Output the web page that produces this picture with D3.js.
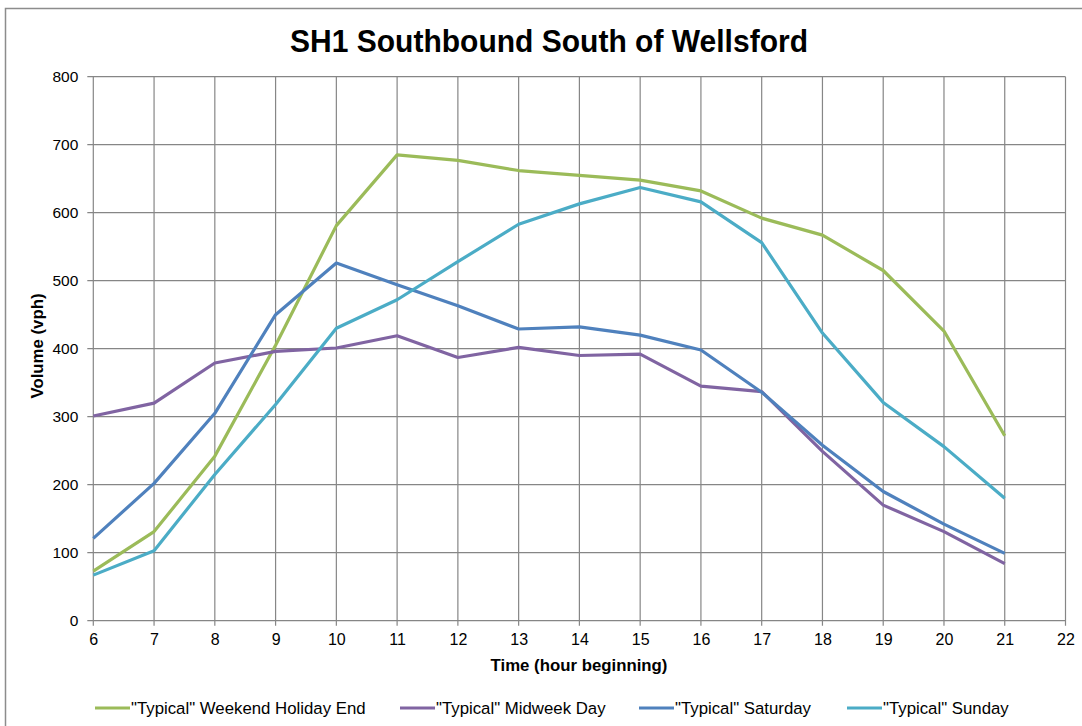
<!DOCTYPE html>
<html><head><meta charset="utf-8">
<script src="https://cdn.jsdelivr.net/npm/d3@7"></script>
<style>body{margin:0;background:#fff}svg{display:block;font-family:"Liberation Sans",Arial,sans-serif}</style>
</head><body><svg id="c" width="1082" height="726"></svg>
<script>
const hours = [6,7,8,9,10,11,12,13,14,15,16,17,18,19,20,21];
const weekendHolidayEnd = [73,131,242,405,581,685,677,662,655,648,632,592,567,515,426,272];
const midweekDay = [301,320,379,396,401,419,387,402,390,392,345,337,249,170,131,84];
const saturday = [121,202,305,450,526,494,463,429,432,420,398,336,258,190,142,99];
const sunday = [67,103,215,318,430,472,528,583,613,637,616,556,423,321,256,180];
const seriesNames = ['"Typical" Weekend Holiday End','"Typical" Midweek Day','"Typical" Saturday','"Typical" Sunday'];
const seriesColors = ['#9BBB59','#8064A2','#4F81BD','#4BACC6'];
const xTicks = d3.range(6,23);
const yTicks = [0,100,200,300,400,500,600,700,800];

const svg = d3.select('#c');
const L=93.3, R=1065.5, T=76.7, B=620.7;
const x = d3.scaleLinear().domain([6,22]).range([L,R]);
const y = d3.scaleLinear().domain([0,800]).range([B,T]);
const FF = '"Liberation Sans",Arial,sans-serif';

// outer frame
svg.append('path').attr('d',`M5.5,1100 V8.5 H1100`).attr('fill','none').attr('stroke','#8c8c8c').attr('stroke-width',1.5);

// title
svg.append('text').attr('x',549).attr('y',52).attr('text-anchor','middle')
  .attr('font-size',31).attr('font-weight','bold').attr('fill','#000')
  .attr('textLength',518).attr('lengthAdjust','spacingAndGlyphs')
  .text('SH1 Southbound South of Wellsford');

// gridlines
const g = svg.append('g');
g.selectAll('.hg').data(yTicks).join('line').attr('x1',L-6).attr('x2',R)
  .attr('y1',d=>y(d)).attr('y2',d=>y(d)).attr('stroke','#868686').attr('stroke-width',1.2);
g.selectAll('.vg').data(xTicks).join('line').attr('y1',T).attr('y2',B+5)
  .attr('x1',d=>x(d)).attr('x2',d=>x(d)).attr('stroke','#868686').attr('stroke-width',1.2);

// axes labels
const yAxis = d3.axisLeft(y).tickValues(yTicks).tickSize(0).tickPadding(15);
const ya = svg.append('g').attr('transform',`translate(${L},0)`).call(yAxis);
ya.select('.domain').remove();
ya.selectAll('text').attr('font-size',15.5).attr('fill','#000').attr('font-family',FF);
const xAxis = d3.axisBottom(x).tickValues(xTicks).tickSize(0).tickPadding(13);
const xa = svg.append('g').attr('transform',`translate(0,${B})`).call(xAxis);
xa.select('.domain').remove();
xa.selectAll('text').attr('font-size',16).attr('fill','#000').attr('font-family',FF);

// axis titles
svg.append('text').attr('transform','translate(43,346) rotate(-90)').attr('text-anchor','middle')
  .attr('font-size',16.8).attr('font-weight','bold').text('Volume (vph)');
svg.append('text').attr('x',579).attr('y',671).attr('text-anchor','middle')
  .attr('font-size',16.8).attr('font-weight','bold').text('Time (hour beginning)');

// lines
const allSeries = [weekendHolidayEnd, midweekDay, saturday, sunday];
const line = d3.line().x((d,i)=>x(hours[i])).y(d=>y(d));
allSeries.forEach((s,k)=>{
  svg.append('path').datum(s).attr('d',line).attr('fill','none')
    .attr('stroke',seriesColors[k]).attr('stroke-width',3.2).attr('stroke-linejoin','round');
});

// legend
const legX = [95,400,639,847];
const lg = svg.append('g');
seriesNames.forEach((n,k)=>{
  lg.append('line').attr('x1',legX[k]).attr('x2',legX[k]+35).attr('y1',708).attr('y2',708)
    .attr('stroke',seriesColors[k]).attr('stroke-width',3.2);
  lg.append('text').attr('x',legX[k]+36).attr('y',714).attr('font-size',16.8).text(n);
});
</script></body></html>
